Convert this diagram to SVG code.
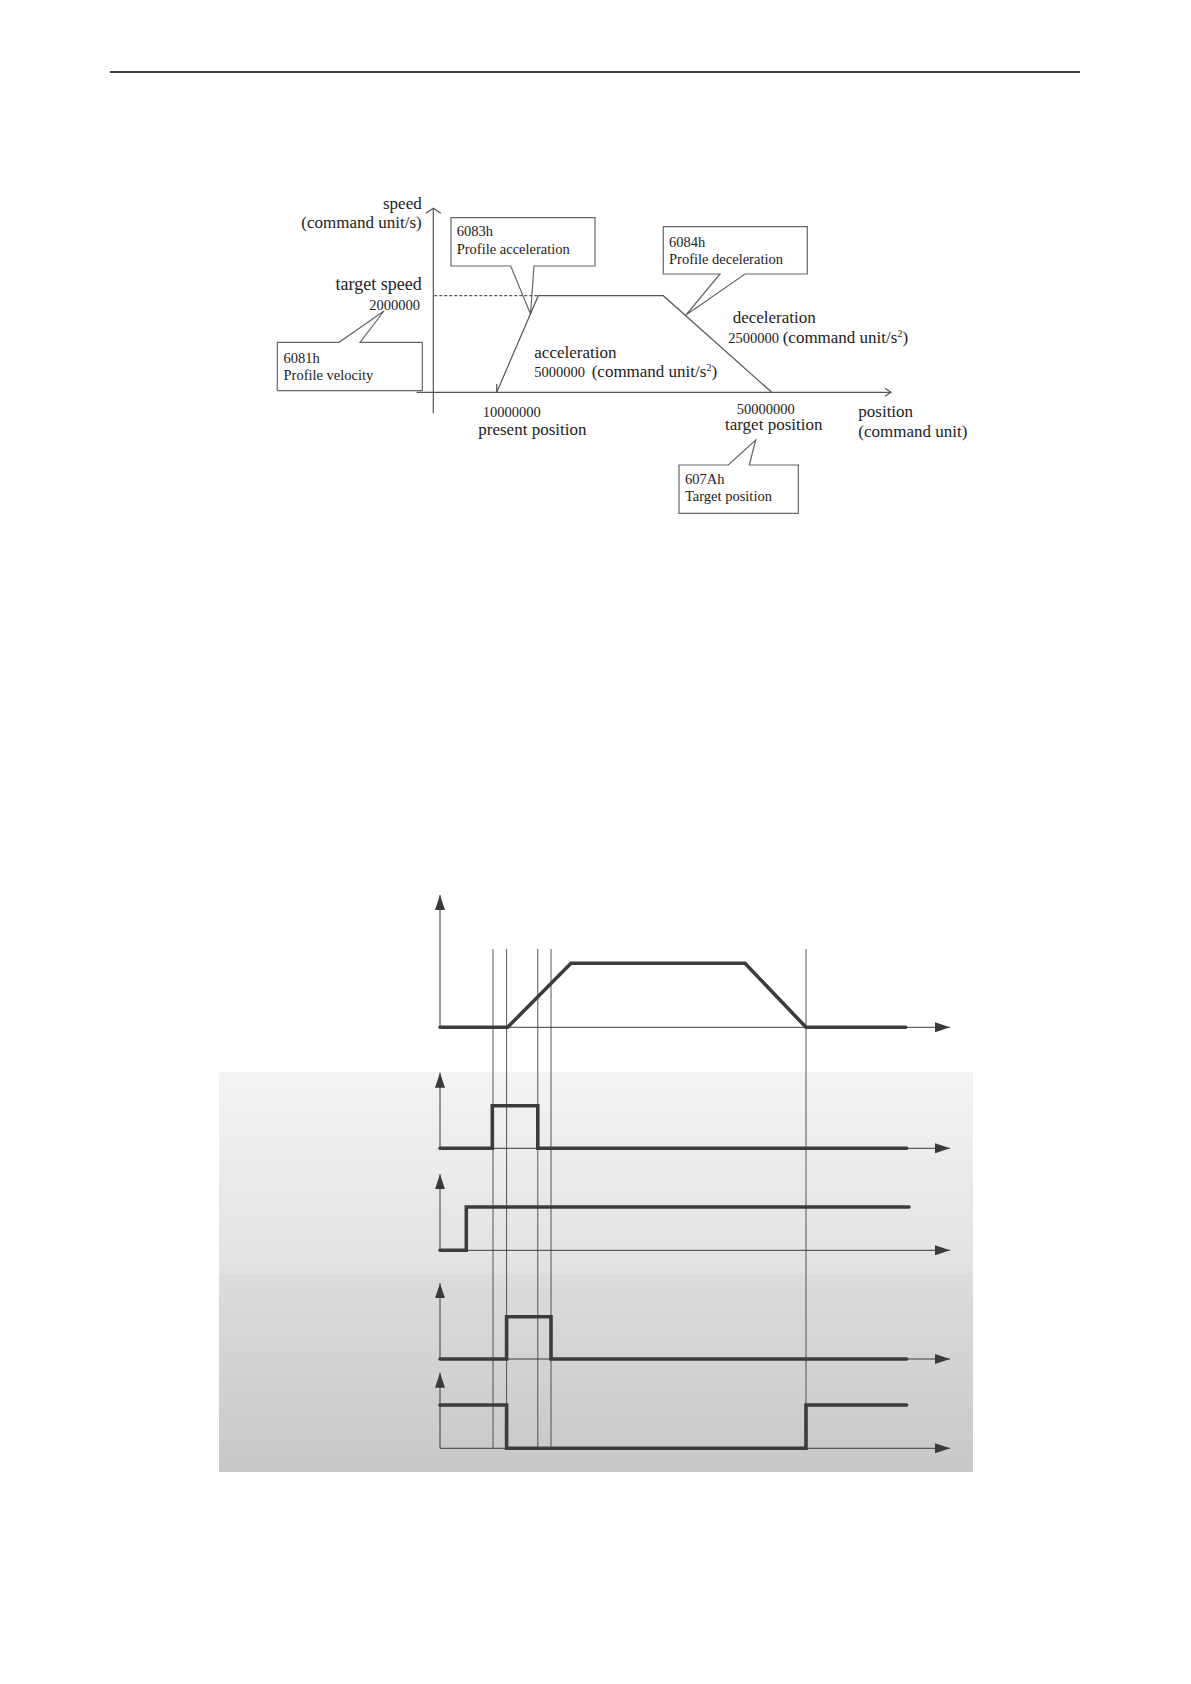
<svg xmlns="http://www.w3.org/2000/svg" width="1191" height="1684" viewBox="0 0 1191 1684">
<defs>
<style>
.t{font-family:"Liberation Serif","Times New Roman",serif;fill:#222;}
.b{font-size:17px;}
.s{font-size:14.5px;}
.ax{stroke:#555;stroke-width:1.2;fill:none;}
.co{stroke:#666;stroke-width:1.2;fill:#fff;}
.thin{stroke:#3a3a3a;stroke-width:1;fill:none;}
.sig{stroke:#3c3c3c;stroke-width:3.6;fill:none;stroke-linecap:round;stroke-linejoin:miter;}
.guide{stroke:#444;stroke-width:0.9;fill:none;}
</style>
<marker id="ah" viewBox="0 0 15 10" refX="15" refY="5" markerWidth="15" markerHeight="10" markerUnits="userSpaceOnUse" orient="auto"><path d="M0,0 L15,5 L0,10 Z" fill="#3a3a3a"/></marker>
<linearGradient id="g1" x1="0" y1="0" x2="0" y2="1"><stop offset="0" stop-color="#f3f3f3"/><stop offset="1" stop-color="#e2e2e2"/></linearGradient>
<linearGradient id="g2" x1="0" y1="0" x2="0" y2="1"><stop offset="0" stop-color="#dcdcdc"/><stop offset="1" stop-color="#c8c8c8"/></linearGradient>
</defs>
<rect width="1191" height="1684" fill="#fff"/>
<line x1="110" y1="72" x2="1080" y2="72" stroke="#000" stroke-width="1.3"/>

<!-- Top: profile position diagram -->
<g id="callout-6081h">
<path class="co" d="M277.3,342.3 L339,342.3 L384,311 L360,342.3 L422.3,342.3 L422.3,390.7 L277.3,390.7 Z"/>
<text class="t s" x="283.5" y="362.7">6081h</text>
<text class="t s" x="283.5" y="379.5">Profile velocity</text>
</g>
<g id="callout-6083h">
<path class="co" d="M451,217.7 L595,217.7 L595,266 L534,266 L530.5,314 L510.7,266 L451,266 Z"/>
<text class="t s" x="456.7" y="235.5">6083h</text>
<text class="t s" x="456.7" y="254">Profile acceleration</text>
</g>
<g id="callout-6084h">
<path class="co" d="M663.3,226.7 L807.3,226.7 L807.3,274 L745,274 L686,315 L720,274 L663.3,274 Z"/>
<text class="t s" x="669" y="246.7">6084h</text>
<text class="t s" x="669" y="263.5">Profile deceleration</text>
</g>
<g id="callout-607Ah">
<path class="co" d="M679,465 L728.3,465 L755.7,440 L749.3,465 L798.3,465 L798.3,513.3 L679,513.3 Z"/>
<text class="t s" x="685" y="483.5">607Ah</text>
<text class="t s" x="685" y="501">Target position</text>
</g>

<g id="profile-axes">
<line class="ax" x1="433.3" y1="413.3" x2="433.3" y2="208.3"/>
<polyline class="ax" points="425.8,213.3 433.3,208.3 440.8,213.3"/>
<line class="ax" x1="416.7" y1="392.3" x2="891" y2="392.3"/>
<polyline class="ax" points="885,388.3 891,392.3 885,396.3"/>
<line class="ax" x1="434.3" y1="295.7" x2="538.3" y2="295.7" stroke-dasharray="3,2"/>
<polyline class="ax" points="496.7,392.3 538.3,295.7 663.3,295.7 771.7,392.3"/>
<line class="ax" x1="496.7" y1="384" x2="496.7" y2="392.3"/>
</g>

<g id="profile-labels">
<text class="t b" x="421.7" y="209.3" text-anchor="end">speed</text>
<text class="t b" x="421.7" y="228.3" text-anchor="end">(command unit/s)</text>
<text class="t" font-size="18" x="421.7" y="290" text-anchor="end">target speed</text>
<text class="t s" x="420" y="310" text-anchor="end">2000000</text>
<text class="t s" x="482.7" y="417.3">10000000</text>
<text class="t b" x="478.3" y="435">present position</text>
<text class="t b" x="534.3" y="357.5">acceleration</text>
<text class="t" x="534.3" y="376.7"><tspan class="s">5000000 </tspan><tspan class="b" dx="3">(command unit/s</tspan><tspan font-size="10" dy="-6">2</tspan><tspan class="b" dy="6">)</tspan></text>
<text class="t b" x="732.7" y="323.3">deceleration</text>
<text class="t" x="728.3" y="342.7"><tspan class="s">2500000 </tspan><tspan class="b">(command unit/s</tspan><tspan font-size="10" dy="-6">2</tspan><tspan class="b" dy="6">)</tspan></text>
<text class="t s" x="736.7" y="413.5">50000000</text>
<text class="t b" x="725" y="430">target position</text>
<text class="t b" x="858.3" y="416.7">position</text>
<text class="t b" x="858.3" y="436.7">(command unit)</text>
</g>

<!-- Bottom: timing diagram -->
<g id="bands">
<rect x="219" y="1072" width="754" height="201" fill="url(#g1)"/>
<rect x="219" y="1273" width="754" height="199" fill="url(#g2)"/>
</g>

<g id="timing-axes">
<line class="thin" x1="440" y1="1027.3" x2="440" y2="895" marker-end="url(#ah)"/>
<line class="thin" x1="440" y1="1027.3" x2="950" y2="1027.3" marker-end="url(#ah)"/>
<line class="thin" x1="440" y1="1148.3" x2="440" y2="1072.7" marker-end="url(#ah)"/>
<line class="thin" x1="440" y1="1148.3" x2="950" y2="1148.3" marker-end="url(#ah)"/>
<line class="thin" x1="440" y1="1250.3" x2="440" y2="1174.3" marker-end="url(#ah)"/>
<line class="thin" x1="440" y1="1250.3" x2="950" y2="1250.3" marker-end="url(#ah)"/>
<line class="thin" x1="440" y1="1359" x2="440" y2="1283.3" marker-end="url(#ah)"/>
<line class="thin" x1="440" y1="1359" x2="950" y2="1359" marker-end="url(#ah)"/>
<line class="thin" x1="440" y1="1448.3" x2="440" y2="1372.7" marker-end="url(#ah)"/>
<line class="thin" x1="440" y1="1448.3" x2="950" y2="1448.3" marker-end="url(#ah)"/>
</g>

<g id="guides">
<line class="guide" x1="493" y1="949" x2="493" y2="1448.3"/>
<line class="guide" x1="506.6" y1="949" x2="506.6" y2="1448.3"/>
<line class="guide" x1="537.8" y1="949" x2="537.8" y2="1448.3"/>
<line class="guide" x1="551" y1="949" x2="551" y2="1448.3"/>
<line class="guide" x1="806" y1="949" x2="806" y2="1448.3"/>
</g>

<g id="signals">
<polyline class="sig" points="440,1027.3 507.6,1027.3 571,963.3 745,963.3 806,1027.3 905.6,1027.3"/>
<polyline class="sig" points="440,1148.3 492.3,1148.3 492.3,1105.7 537.8,1105.7 537.8,1148.3 906.6,1148.3"/>
<polyline class="sig" points="440,1250.3 466.3,1250.3 466.3,1207 909,1207"/>
<polyline class="sig" points="440,1359 506.6,1359 506.6,1316.7 551,1316.7 551,1359 906.6,1359"/>
<polyline class="sig" points="440,1405 506.6,1405 506.6,1448.3 806,1448.3 806,1405 906.6,1405"/>
</g>
</svg>
